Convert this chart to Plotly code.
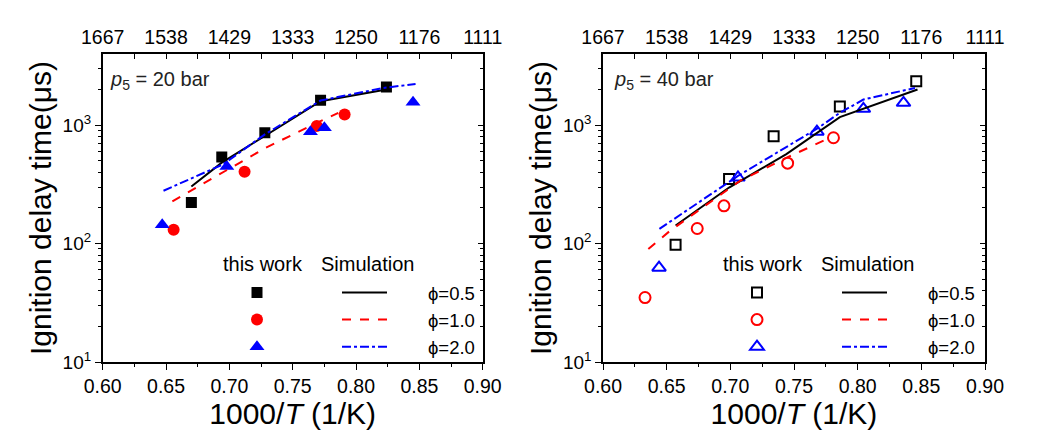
import plotly.graph_objects as go

# ---------------- data ----------------
# p5 = 20 bar, experiments (this work)
x20_phi05 = [0.670, 0.694, 0.728, 0.772, 0.824]
y20_phi05 = [222, 538, 861, 1622, 2099]
x20_phi10 = [0.656, 0.712, 0.769, 0.791]
y20_phi10 = [131, 403, 981, 1230]
x20_phi20 = [0.647, 0.698, 0.764, 0.775, 0.845]
y20_phi20 = [144, 447, 879, 948, 1560]
# p5 = 20 bar, simulation
xs20_phi05 = [0.670, 0.694, 0.728, 0.772, 0.824]
ys20_phi05 = [303, 482, 809, 1592, 1995]
xs20_phi10 = [0.655, 0.695, 0.728, 0.769, 0.786]
ys20_phi10 = [227, 397, 637, 1045, 1268]
xs20_phi20 = [0.648, 0.695, 0.728, 0.772, 0.8215, 0.847]
ys20_phi20 = [279, 466, 834, 1611, 2056, 2223]

# p5 = 40 bar, experiments (this work)
x40_phi05 = [0.657, 0.699, 0.734, 0.786, 0.846]
y40_phi05 = [97.5, 350, 803, 1436, 2344]
x40_phi10 = [0.633, 0.674, 0.695, 0.745, 0.781]
y40_phi10 = [35, 134, 208, 477, 782]
x40_phi20 = [0.644, 0.706, 0.768, 0.8045, 0.836]
y40_phi20 = [62.5, 361, 879, 1371, 1541]
# p5 = 40 bar, simulation
xs40_phi05 = [0.657, 0.699, 0.744, 0.786, 0.847]
ys40_phi05 = [142, 297, 568, 1167, 1995]
xs40_phi10 = [0.6356, 0.6526, 0.7076, 0.7443, 0.7757]
ys40_phi10 = [90, 128, 338, 531, 759]
xs40_phi20 = [0.6443, 0.706, 0.7684, 0.786, 0.8045, 0.845]
ys40_phi20 = [133, 372, 937, 1268, 1643, 2056]

phi_labels = ["\u03d5=0.5", "\u03d5=1.0", "\u03d5=2.0"]
x_ticks = [0.60, 0.65, 0.70, 0.75, 0.80, 0.85, 0.90]
x_ticktext = ["0.60", "0.65", "0.70", "0.75", "0.80", "0.85", "0.90"]
top_ticktext = ["1667", "1538", "1429", "1333", "1250", "1176", "1111"]
y_ticks = [10, 100, 1000]
y_ticktext = ["10<sup>1</sup>", "10<sup>2</sup>", "10<sup>3</sup>"]
y_minor = [20, 30, 40, 50, 60, 70, 80, 90,
           200, 300, 400, 500, 600, 700, 800, 900, 2000, 3000]
panel_labels = ["<i>p</i><sub>5</sub> = 20 bar", "<i>p</i><sub>5</sub> = 40 bar"]

# ---------------- styling ----------------
FONT = "Liberation Sans, Arial, sans-serif"
BLACK, RED, BLUE = "#000000", "#ff0000", "#0000ff"
OFF = 8  # the page body adds an 8 px margin around the figure

fig = go.Figure()

panels = [
    dict(xa="x", ya="y", xt="x2", yr="y2", lg_m="legend", lg_l="legend2",
         exp=[(x20_phi05, y20_phi05), (x20_phi10, y20_phi10), (x20_phi20, y20_phi20)],
         sim=[(xs20_phi05, ys20_phi05), (xs20_phi10, ys20_phi10), (xs20_phi20, ys20_phi20)],
         symbols=["square", "circle", "triangle-up"], sizes=[11, 12, 13], lw=0),
    dict(xa="x3", ya="y3", xt="x4", yr="y4", lg_m="legend3", lg_l="legend4",
         exp=[(x40_phi05, y40_phi05), (x40_phi10, y40_phi10), (x40_phi20, y40_phi20)],
         sim=[(xs40_phi05, ys40_phi05), (xs40_phi10, ys40_phi10), (xs40_phi20, ys40_phi20)],
         symbols=["square-open", "circle-open", "triangle-up-open"], sizes=[10, 11, 12], lw=2),
]
colors = [BLACK, RED, BLUE]
dashes = ["solid", "dash", "dashdot"]

for p in panels:
    for i, (xx, yy) in enumerate(p["exp"]):
        fig.add_trace(go.Scatter(
            x=xx, y=yy, mode="markers", xaxis=p["xa"], yaxis=p["ya"],
            name="\u00a0", legend=p["lg_m"],
            marker=dict(symbol=p["symbols"][i], size=p["sizes"][i], color=colors[i],
                        line=dict(width=p["lw"], color=colors[i]))))
    for i, (xx, yy) in enumerate(p["sim"]):
        fig.add_trace(go.Scatter(
            x=xx, y=yy, mode="lines", xaxis=p["xa"], yaxis=p["ya"],
            name="\u00a0\u00a0\u00a0\u00a0\u00a0\u00a0\u00a0" + phi_labels[i], legend=p["lg_l"],
            line=dict(color=colors[i], width=2, dash=dashes[i])))
    # invisible traces so the companion (top / right) axes are drawn
    fig.add_trace(go.Scatter(x=p["exp"][0][0], y=p["exp"][0][1], xaxis=p["xt"], yaxis=p["ya"],
                             mode="markers", marker=dict(opacity=0), showlegend=False, hoverinfo="skip"))
    fig.add_trace(go.Scatter(x=p["exp"][0][0], y=p["exp"][0][1], xaxis=p["xa"], yaxis=p["yr"],
                             mode="markers", marker=dict(opacity=0), showlegend=False, hoverinfo="skip"))

W, H = 1055, 435


def px_x(v):
    return (v - OFF) / W


def px_y(v):
    return 1 - (v - OFF) / H


doms = [[px_x(102.7), px_x(482.7)], [px_x(603.0), px_x(985.0)]]
ydom = [px_y(362.0), px_y(54.0)]

common_x = dict(range=[0.6, 0.9], tickvals=x_ticks, showgrid=False, zeroline=False, automargin=False,
                showline=True, linecolor=BLACK, linewidth=1.5, tickcolor=BLACK, tickwidth=1.2,
                tickfont=dict(family=FONT, size=19.5, color=BLACK))
common_y = dict(type="log", range=[1, 3.6], tickvals=y_ticks, showgrid=False, zeroline=False,
                automargin=False,
                showline=True, linecolor=BLACK, linewidth=1.5, tickcolor=BLACK, tickwidth=1.2,
                tickfont=dict(family=FONT, size=19, color=BLACK))

layout = dict(width=W, height=H, margin=dict(l=0, r=0, t=0, b=0, autoexpand=False),
              paper_bgcolor="white", plot_bgcolor="white",
              font=dict(family=FONT, color=BLACK))

for k, p in enumerate(panels):
    xa = "xaxis" if p["xa"] == "x" else "xaxis" + p["xa"][1:]
    ya = "yaxis" if p["ya"] == "y" else "yaxis" + p["ya"][1:]
    xt = "xaxis" + p["xt"][1:]
    yr = "yaxis" + p["yr"][1:]
    layout[xa] = dict(common_x, domain=doms[k], anchor=p["ya"], side="bottom",
                      ticktext=x_ticktext, ticks="outside", ticklen=6,
                      minor=dict(dtick=0.025, ticks="outside", ticklen=3, tickcolor=BLACK),
                      title=dict(text="1000/<i>T</i> (1/K)", standoff=3,
                                 font=dict(family=FONT, size=30, color=BLACK)))
    layout[xt] = dict(common_x, overlaying=p["xa"], anchor=p["ya"], side="top",
                      ticktext=top_ticktext, ticks="inside", ticklen=5,
                      minor=dict(dtick=0.025, ticks="inside", ticklen=5, tickcolor=BLACK))
    layout[ya] = dict(common_y, domain=ydom, anchor=p["xa"], side="left",
                      ticktext=y_ticktext, ticks="outside", ticklen=6,
                      minor=dict(tickvals=y_minor, ticks="outside", ticklen=3, tickcolor=BLACK),
                      title=dict(text="Ignition delay time(\u03bcs)", standoff=2,
                                 font=dict(family=FONT, size=30, color=BLACK)))
    layout[yr] = dict(common_y, overlaying=p["ya"], anchor=p["xa"], side="right",
                      showticklabels=False, ticks="inside", ticklen=5,
                      minor=dict(tickvals=y_minor, ticks="inside", ticklen=3, tickcolor=BLACK))

# legends: marker column and line column for each panel
leg_common = dict(bgcolor="rgba(0,0,0,0)", borderwidth=0, font=dict(family=FONT, size=18.5, color=BLACK),
                  xanchor="left", yanchor="top", traceorder="normal", tracegroupgap=0,
                  itemclick=False, itemdoubleclick=False)
y_leg = px_y(274.0)
layout["legend"] = dict(leg_common, x=px_x(237.0), y=y_leg, itemwidth=30)
layout["legend2"] = dict(leg_common, x=px_x(337.0), y=y_leg, itemwidth=45)
layout["legend3"] = dict(leg_common, x=px_x(737.0), y=y_leg, itemwidth=30)
layout["legend4"] = dict(leg_common, x=px_x(837.0), y=y_leg, itemwidth=45)

fig.update_layout(**layout)

# column headings and panel labels
heads = [("this work", 263, 264), ("Simulation", 367, 264),
         ("this work", 763, 264), ("Simulation", 867, 264)]
for txt, px, py in heads:
    fig.add_annotation(text=txt, x=px_x(px), y=px_y(py), xref="paper", yref="paper",
                       xanchor="center", yanchor="middle", showarrow=False,
                       font=dict(family=FONT, size=20, color=BLACK))
for k, px in enumerate([108, 612]):
    fig.add_annotation(text=panel_labels[k], x=px_x(px), y=px_y(80.0), xref="paper", yref="paper",
                       xanchor="left", yanchor="middle", showarrow=False,
                       font=dict(family=FONT, size=20, color="#222222"))

fig.write_html("out.html")
